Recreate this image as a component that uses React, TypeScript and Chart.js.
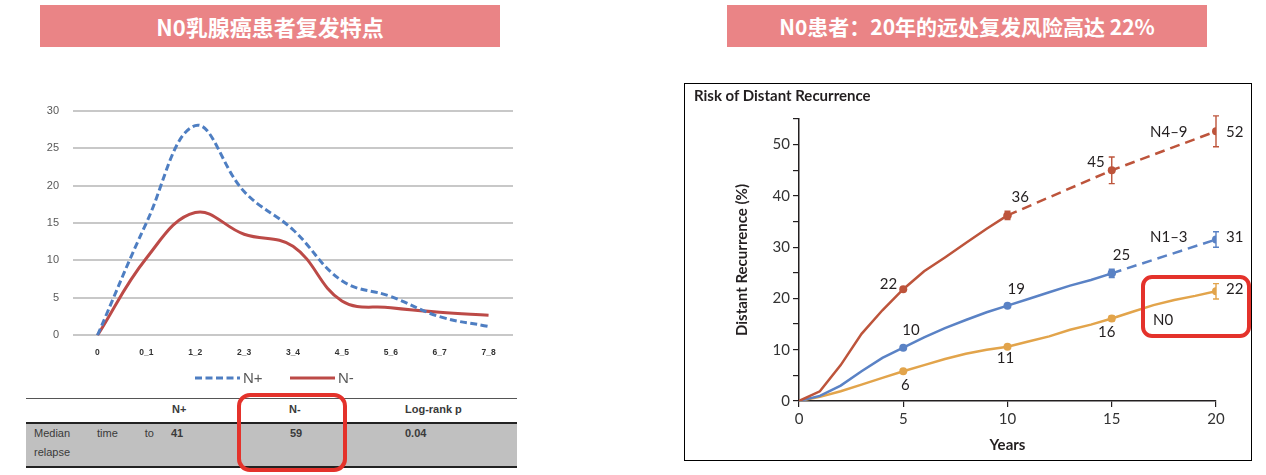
import React, { useEffect, useRef } from "react";
import { Chart, registerables } from "chart.js";

Chart.register(...registerables);

// ---------------- Left chart data ----------------
const relapseIntervals = ["0", "0_1", "1_2", "2_3", "3_4", "4_5", "5_6", "6_7", "7_8"];
const relapseNPositive = [0, 15.0, 28.0, 19.2, 14.1, 7.3, 5.2, 2.5, 1.2];
const relapseNNegative = [0, 10.3, 16.4, 13.5, 11.9, 4.6, 3.7, 3.1, 2.7];
const relapseSeriesNames = ["N+", "N-"];
const relapseYMax = 30;
const relapseYStep = 5;

// table under the left chart
const tableHeaders = ["N+", "N-", "Log-rank p"];
const tableRowLabelLine1 = ["Median", "time", "to"];
const tableRowLabelLine2 = "relapse";
const tableRowValues = ["41", "59", "0.04"];

// banners
const leftBannerText = "N0乳腺癌患者复发特点";
const rightBannerText = "N0患者：20年的远处复发风险高达 22%";

// ---------------- Right chart data ----------------
const rightTitle = "Risk of Distant Recurrence";
const rightYTitle = "Distant Recurrence (%)";
const rightXTitle = "Years";
const rightYMax = 55;
const rightXMax = 20;

const yearsN49Solid = [0, 1, 2, 3, 4, 5, 6, 7, 8, 9, 10];
const riskN49Solid = [0, 1.9, 7.0, 13.1, 17.7, 21.8, 25.3, 28.0, 30.8, 33.6, 36.2];
const yearsN49Dashed = [10, 15, 20];
const riskN49Dashed = [36.2, 45.0, 52.6];

const yearsN13Solid = [0, 1, 2, 3, 4, 5, 6, 7, 8, 9, 10, 11, 12, 13, 14, 15];
const riskN13Solid = [0, 1.0, 3.0, 5.8, 8.4, 10.4, 12.4, 14.2, 15.8, 17.3, 18.6, 19.9, 21.2, 22.5, 23.6, 24.9];
const yearsN13Dashed = [15, 20];
const riskN13Dashed = [24.9, 31.5];

const yearsN0 = [0, 1, 2, 3, 4, 5, 6, 7, 8, 9, 10, 11, 12, 13, 14, 15, 16, 17, 18, 19, 20];
const riskN0 = [0, 0.8, 1.9, 3.2, 4.5, 5.8, 7.0, 8.2, 9.2, 10.0, 10.6, 11.6, 12.6, 13.9, 14.9, 16.1, 17.4, 18.7, 19.7, 20.5, 21.4];

const markerYears = [5, 10, 15, 20];
const n49ValueLabels = ["22", "36", "45", "52"];
const n13ValueLabels = ["10", "19", "25", "31"];
const n0ValueLabels = ["6", "11", "16", "22"];
const n49ErrorHalf = [0, 0.8, 2.6, 3.0];
const n13ErrorHalf = [0, 0, 0.8, 1.5];
const n0ErrorHalf = [0, 0, 0.5, 1.5];
const rightSeriesNames = ["N4–9", "N1–3", "N0"];

// ---------------- Styles ----------------
const BANNER = "#EA8486";
const HILITE = "#E4322B";
const L_BLUE = "#4E7EC2";
const L_RED = "#BC4A47";
const C49 = "#BD543B";
const C13 = "#5A82C5";
const C0 = "#E2A44B";
const INK = "#231F20";
const LEFT_FONT = "'Liberation Sans', Arial, sans-serif";
const RIGHT_FONT = "Lato, 'Open Sans', sans-serif";
const CJK_FONT = "'Noto Sans CJK SC', 'Noto Sans', sans-serif";

const labelOffsets = [
  [
    { dx: -6, dy: -5, align: "right" },
    { dx: 4, dy: -18, align: "left" },
    { dx: -7, dy: -8, align: "right" },
    { dx: 10, dy: 1, align: "left" },
  ],
  [
    { dx: -1, dy: -18, align: "left" },
    { dx: 0, dy: -16, align: "left" },
    { dx: 1, dy: -18, align: "left" },
    { dx: 10, dy: -2, align: "left" },
  ],
  [
    { dx: 2, dy: 13.5, align: "center" },
    { dx: -2, dy: 12, align: "center" },
    { dx: -5, dy: 14, align: "center" },
    { dx: 10, dy: -2, align: "left" },
  ],
];
const nameOffsets = [
  { dx: -66, dy: 1 },
  { dx: -66, dy: -2 },
  { dx: -63, dy: 29 },
];

const toPoints = (xs: number[], ys: number[]) => xs.map((x, i) => ({ x, y: ys[i] }));

const valueAt = (xsList: number[][], ysList: number[][], yr: number) => {
  for (let k = 0; k < xsList.length; k++) {
    const idx = xsList[k].indexOf(yr);
    if (idx >= 0) return ysList[k][idx];
  }
  return 0;
};

const rightSeries = [
  {
    color: C49,
    xs: [yearsN49Solid, yearsN49Dashed],
    ys: [riskN49Solid, riskN49Dashed],
    labels: n49ValueLabels,
    err: n49ErrorHalf,
  },
  {
    color: C13,
    xs: [yearsN13Solid, yearsN13Dashed],
    ys: [riskN13Solid, riskN13Dashed],
    labels: n13ValueLabels,
    err: n13ErrorHalf,
  },
  {
    color: C0,
    xs: [yearsN0],
    ys: [riskN0],
    labels: n0ValueLabels,
    err: n0ErrorHalf,
  },
];

const leftLegendPlugin = {
  id: "leftLegend",
  afterDraw(chart: any, _args: any, opts: any) {
    const ctx = chart.ctx;
    chart.data.datasets.forEach((ds: any, i: number) => {
      const x0 = opts.items[i];
      ctx.save();
      ctx.strokeStyle = ds.borderColor;
      ctx.lineWidth = ds.borderWidth;
      ctx.setLineDash(ds.borderDash || []);
      ctx.beginPath();
      ctx.moveTo(x0, opts.y);
      ctx.lineTo(x0 + opts.lineLength, opts.y);
      ctx.stroke();
      ctx.setLineDash([]);
      ctx.fillStyle = opts.color;
      ctx.font = opts.font;
      ctx.textBaseline = "middle";
      ctx.textAlign = "left";
      ctx.fillText(ds.label, x0 + opts.lineLength + opts.gap, opts.y + 1);
      ctx.restore();
    });
  },
};

const rightAnnotPlugin = {
  id: "rightAnnot",
  afterDatasetsDraw(chart: any) {
    const ctx = chart.ctx;
    const xs = chart.scales.x;
    const ys = chart.scales.y;
    rightSeries.forEach((s, si) => {
      ctx.save();
      ctx.strokeStyle = s.color;
      ctx.lineWidth = 1.4;
      markerYears.forEach((yr, i) => {
        const v = valueAt(s.xs, s.ys, yr);
        const e = s.err[i];
        if (e > 0) {
          const px = xs.getPixelForValue(yr);
          const t = ys.getPixelForValue(v + e);
          const b = ys.getPixelForValue(v - e);
          ctx.beginPath();
          ctx.moveTo(px, t);
          ctx.lineTo(px, b);
          ctx.moveTo(px - 3, t);
          ctx.lineTo(px + 3, t);
          ctx.moveTo(px - 3, b);
          ctx.lineTo(px + 3, b);
          ctx.stroke();
        }
      });
      ctx.fillStyle = INK;
      ctx.font = "15px " + RIGHT_FONT;
      ctx.textBaseline = "middle";
      markerYears.forEach((yr, i) => {
        const v = valueAt(s.xs, s.ys, yr);
        const px = xs.getPixelForValue(yr);
        const py = ys.getPixelForValue(v);
        const o = labelOffsets[si][i];
        ctx.textAlign = o.align;
        ctx.fillText(s.labels[i], px + o.dx, py + o.dy);
      });
      const lastYear = markerYears[markerYears.length - 1];
      const lv = valueAt(s.xs, s.ys, lastYear);
      const no = nameOffsets[si];
      ctx.textAlign = "left";
      ctx.fillText(
        rightSeriesNames[si],
        xs.getPixelForValue(lastYear) + no.dx,
        ys.getPixelForValue(lv) + no.dy
      );
      ctx.restore();
    });
  },
};

const markerRadius = (c: any) => (c.raw && markerYears.includes(c.raw.x) ? 4 : 0);

function LeftChart() {
  const ref = useRef<HTMLCanvasElement>(null);
  useEffect(() => {
    const chart = new Chart(ref.current as HTMLCanvasElement, {
      type: "line",
      data: {
        labels: relapseIntervals,
        datasets: [
          {
            label: relapseSeriesNames[0],
            data: relapseNPositive,
            borderColor: L_BLUE,
            backgroundColor: L_BLUE,
            borderWidth: 3,
            borderDash: [7, 3.5],
            tension: 0.4,
            pointRadius: 0,
            fill: false,
          },
          {
            label: relapseSeriesNames[1],
            data: relapseNNegative,
            borderColor: L_RED,
            backgroundColor: L_RED,
            borderWidth: 3,
            tension: 0.4,
            pointRadius: 0,
            fill: false,
          },
        ],
      } as any,
      options: {
        animation: false,
        responsive: false,
        maintainAspectRatio: false,
        layout: { padding: { left: 0, right: 17, top: 18, bottom: 20.4 } },
        plugins: {
          legend: { display: false },
          tooltip: { enabled: false },
          leftLegend: {
            items: [175, 270],
            y: 288,
            lineLength: 45,
            gap: 3,
            color: "#595959",
            font: "15px " + LEFT_FONT,
          },
        } as any,
        scales: {
          x: {
            offset: true,
            grid: { display: false, drawTicks: false },
            border: { display: false },
            ticks: {
              autoSkip: false,
              maxRotation: 0,
              padding: 12,
              color: "#333333",
              font: { size: 8.5, weight: "bold", family: LEFT_FONT },
            },
          },
          y: {
            min: 0,
            max: relapseYMax,
            grid: { color: "#C8C8C8", lineWidth: 2, drawTicks: false },
            border: { display: false },
            ticks: {
              stepSize: relapseYStep,
              padding: 14,
              color: "#595959",
              font: { size: 11, family: LEFT_FONT },
            },
            afterFit: (s: any) => {
              s.width = 53;
            },
          },
        },
      } as any,
      plugins: [leftLegendPlugin],
    });
    return () => chart.destroy();
  }, []);
  return (
    <canvas
      ref={ref}
      width={510}
      height={300}
      style={{ position: "absolute", left: 20, top: 90, width: 510, height: 300, display: "block" }}
    />
  );
}

function RightChart() {
  const ref = useRef<HTMLCanvasElement>(null);
  useEffect(() => {
    const base = {
      borderWidth: 2.5,
      tension: 0,
      pointRadius: markerRadius,
      pointHoverRadius: 0,
      pointBorderWidth: 0,
      fill: false,
    };
    const chart = new Chart(ref.current as HTMLCanvasElement, {
      type: "line",
      data: {
        datasets: [
          { ...base, label: rightSeriesNames[0], data: toPoints(yearsN49Solid, riskN49Solid), borderColor: C49, backgroundColor: C49 },
          { ...base, label: rightSeriesNames[0] + " (dashed)", data: toPoints(yearsN49Dashed, riskN49Dashed), borderColor: C49, backgroundColor: C49, borderDash: [10, 6] },
          { ...base, label: rightSeriesNames[1], data: toPoints(yearsN13Solid, riskN13Solid), borderColor: C13, backgroundColor: C13 },
          { ...base, label: rightSeriesNames[1] + " (dashed)", data: toPoints(yearsN13Dashed, riskN13Dashed), borderColor: C13, backgroundColor: C13, borderDash: [10, 6] },
          { ...base, label: rightSeriesNames[2], data: toPoints(yearsN0, riskN0), borderColor: C0, backgroundColor: C0 },
        ],
      } as any,
      options: {
        animation: false,
        responsive: false,
        maintainAspectRatio: false,
        layout: { padding: { left: 44, right: 35, top: 35, bottom: 0 } },
        plugins: { legend: { display: false }, tooltip: { enabled: false } },
        scales: {
          x: {
            type: "linear",
            min: 0,
            max: rightXMax,
            grid: { drawOnChartArea: false, drawTicks: true, tickLength: 6, color: INK, lineWidth: 1.2 },
            border: { color: INK, width: 1.5 },
            ticks: { stepSize: 5, padding: 3, color: "#333", font: { size: 15, family: RIGHT_FONT } },
            title: {
              display: true,
              text: rightXTitle,
              color: INK,
              font: { size: 15, weight: "bold", family: RIGHT_FONT },
              padding: { top: 4, bottom: 6 },
            },
            afterFit: (s: any) => {
              s.height = 59;
            },
          },
          y: {
            min: 0,
            max: rightYMax,
            grid: { drawOnChartArea: false, drawTicks: true, tickLength: 6, color: INK, lineWidth: 1.2 },
            border: { color: INK, width: 1.5 },
            ticks: {
              stepSize: 5,
              padding: 3,
              color: "#333",
              font: { size: 15, family: RIGHT_FONT },
              callback: (v: any) => (Number(v) % 10 === 0 ? String(v) : ""),
            },
            title: {
              display: true,
              text: rightYTitle,
              color: INK,
              font: { size: 15, weight: "bold", family: RIGHT_FONT },
              padding: 4,
            },
            afterFit: (s: any) => {
              s.width = 70;
            },
          },
        },
      } as any,
      plugins: [rightAnnotPlugin],
    });
    return () => chart.destroy();
  }, []);
  return (
    <canvas
      ref={ref}
      width={566}
      height={376}
      style={{ position: "absolute", left: 0, top: 0, width: 566, height: 376, display: "block" }}
    />
  );
}

const abs = (left: number, top: number, extra: any = {}) => ({ position: "absolute" as const, left, top, ...extra });

export default function App() {
  const tableText = { fontFamily: LEFT_FONT, fontSize: 11, color: "#3A3A3A", lineHeight: "14px" };
  return (
    <div
      style={{
        position: "absolute",
        left: 0,
        top: 0,
        width: 1266,
        height: 475,
        background: "#fff",
        overflow: "hidden",
      }}
    >
      {/* Banners */}
      <div
        style={abs(40, 5, {
          width: 460,
          height: 42,
          background: BANNER,
          color: "#fff",
          fontFamily: CJK_FONT,
          fontWeight: 700,
          fontSize: 22,
          display: "flex",
          alignItems: "center",
          justifyContent: "center",
        })}
      >
        {leftBannerText}
      </div>
      <div
        style={abs(727, 5, {
          width: 480,
          height: 42,
          background: BANNER,
          color: "#fff",
          fontFamily: CJK_FONT,
          fontWeight: 700,
          fontSize: 21,
          display: "flex",
          alignItems: "center",
          justifyContent: "center",
        })}
      >
        {rightBannerText}
      </div>

      {/* Left chart */}
      <LeftChart />

      {/* Table */}
      <div style={abs(26, 398, { width: 491, height: 1, background: "#555" })} />
      <div style={abs(26, 423, { width: 491, height: 44, background: "#C0C0C0" })} />
      <div style={abs(26, 422, { width: 491, height: 2, background: "#222" })} />
      <div style={abs(26, 466, { width: 491, height: 2, background: "#222" })} />
      <div style={abs(172, 402, { ...tableText, fontWeight: 700 })}>{tableHeaders[0]}</div>
      <div style={abs(289, 402, { ...tableText, fontWeight: 700 })}>{tableHeaders[1]}</div>
      <div style={abs(405, 402, { ...tableText, fontWeight: 700 })}>{tableHeaders[2]}</div>
      <div
        style={abs(34, 426, {
          ...tableText,
          width: 120,
          display: "flex",
          justifyContent: "space-between",
        })}
      >
        {tableRowLabelLine1.map((w) => (
          <span key={w}>{w}</span>
        ))}
      </div>
      <div style={abs(34, 445, tableText)}>{tableRowLabelLine2}</div>
      <div style={abs(171, 426, { ...tableText, fontWeight: 700 })}>{tableRowValues[0]}</div>
      <div style={abs(290, 426, { ...tableText, fontWeight: 700 })}>{tableRowValues[1]}</div>
      <div style={abs(405, 426, { ...tableText, fontWeight: 700 })}>{tableRowValues[2]}</div>
      <div
        style={abs(237, 393, {
          width: 110,
          height: 79,
          boxSizing: "border-box",
          border: `4px solid ${HILITE}`,
          borderRadius: 13,
        })}
      />

      {/* Right chart */}
      <div
        style={abs(684, 83, {
          width: 566,
          height: 376,
          border: "1px solid #000",
        })}
      >
        <RightChart />
      </div>
      <div
        style={abs(694, 86, {
          fontFamily: RIGHT_FONT,
          fontWeight: 700,
          fontSize: 15,
          lineHeight: "18px",
          color: INK,
        })}
      >
        {rightTitle}
      </div>
      <div
        style={abs(1141, 275, {
          width: 110,
          height: 63,
          boxSizing: "border-box",
          border: `4px solid ${HILITE}`,
          borderRadius: 11,
        })}
      />
    </div>
  );
}
